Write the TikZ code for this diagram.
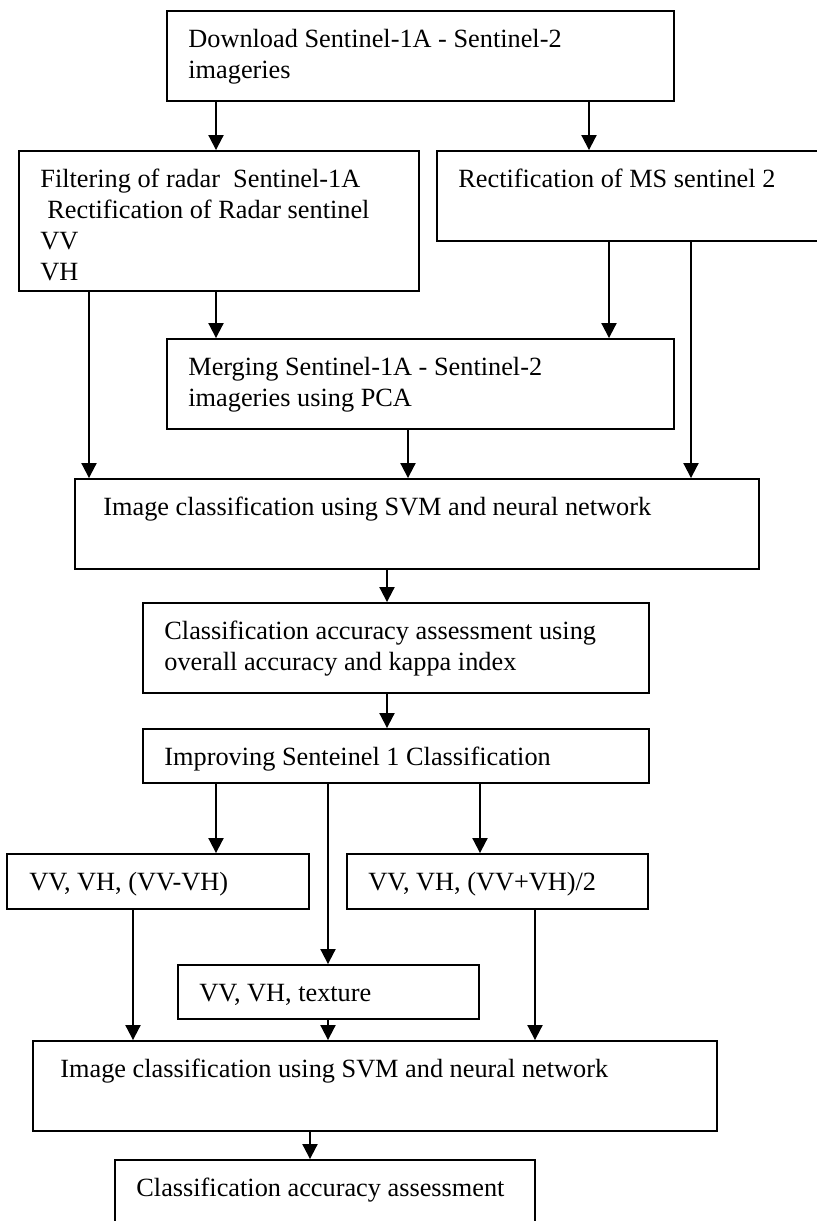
\documentclass[tikz,border=0pt]{standalone}
\usepackage{fontspec}
\setmainfont{Liberation Serif}
\usetikzlibrary{arrows.meta,fit}
\begin{document}
\begin{tikzpicture}[x=0.5pt,y=-0.5pt,
  box/.style={draw=black,line width=0.95pt,inner sep=0pt,fill=none},
  lbl/.style={anchor=base west,inner sep=0pt,font=\fontsize{13.15pt}{15.5pt}\selectfont},
  arr/.style={draw=black,line width=1pt,-{Triangle[length=7.5pt,width=7.5pt]}}]
\useasboundingbox (0,0) rectangle (817,1221);
\clip (0,0) rectangle (817,1221);
\fill[white] (0,0) rectangle (817,1221);
% boxes
\node[box,fit={(167,11)(674,101)}] (b1) {};
\node[box,fit={(19,151)(419,291)}] (b2) {};
\node[box,fit={(437,151)(840,241)}] (b3) {};
\node[box,fit={(167,339)(674,429)}] (b4) {};
\node[box,fit={(75,479)(759,569)}] (b5) {};
\node[box,fit={(143,603)(649,693)}] (b6) {};
\node[box,fit={(143,729)(649,783)}] (b7) {};
\node[box,fit={(7,854)(309,909)}] (b8) {};
\node[box,fit={(347,854)(648,909)}] (b9) {};
\node[box,fit={(178,965)(479,1019)}] (b10) {};
\node[box,fit={(33,1041)(717,1131)}] (b11) {};
\node[box,fit={(115,1160)(535,1250)}] (b12) {};
% texts
\node[lbl] (t1a) at (188,47) {Download Sentinel-1A - Sentinel-2};
\node[lbl] (t1b) at (188,78) {imageries};
\node[lbl] (t2a) at (40,187) {Filtering of radar\ \ Sentinel-1A};
\node[lbl] (t2b) at (47,218) {Rectification of Radar sentinel};
\node[lbl] (t2c) at (40,249) {VV};
\node[lbl] (t2d) at (40,280) {VH};
\node[lbl] (t3) at (458,187) {Rectification of MS sentinel 2};
\node[lbl] (t4a) at (188,375) {Merging Sentinel-1A - Sentinel-2};
\node[lbl] (t4b) at (188,406) {imageries using PCA};
\node[lbl] (t5) at (103,515) {Image classification using SVM and neural network};
\node[lbl] (t6a) at (164,639) {Classification accuracy assessment using};
\node[lbl] (t6b) at (164,670) {overall accuracy and kappa index};
\node[lbl] (t7) at (164,765) {Improving Senteinel 1 Classification};
\node[lbl] (t8) at (29,890) {VV, VH, (VV-VH)};
\node[lbl] (t9) at (368,890) {VV, VH, (VV+VH)/2};
\node[lbl] (t10) at (199,1001) {VV, VH, texture};
\node[lbl] (t11) at (60,1077) {Image classification using SVM and neural network};
\node[lbl] (t12) at (136,1196) {Classification accuracy assessment};
% x positions of connectors
\coordinate (x89) at (89,0);
\coordinate (x133) at (133,0);
\coordinate (x216) at (216,0);
\coordinate (x310) at (310,0);
\coordinate (x328) at (328,0);
\coordinate (x387) at (387,0);
\coordinate (x408) at (408,0);
\coordinate (x480) at (480,0);
\coordinate (x535) at (535,0);
\coordinate (x589) at (589,0);
\coordinate (x609) at (609,0);
\coordinate (x691) at (691,0);
% connectors
\draw[arr] (b1.south -| x216) -- (b2.north -| x216);
\draw[arr] (b1.south -| x589) -- (b3.north -| x589);
\draw[arr] (b2.south -| x89) -- (b5.north -| x89);
\draw[arr] (b2.south -| x216) -- (b4.north -| x216);
\draw[arr] (b3.south -| x609) -- (b4.north -| x609);
\draw[arr] (b3.south -| x691) -- (b5.north -| x691);
\draw[arr] (b4.south -| x408) -- (b5.north -| x408);
\draw[arr] (b5.south -| x387) -- (b6.north -| x387);
\draw[arr] (b6.south -| x387) -- (b7.north -| x387);
\draw[arr] (b7.south -| x216) -- (b8.north -| x216);
\draw[arr] (b7.south -| x328) -- (b10.north -| x328);
\draw[arr] (b7.south -| x480) -- (b9.north -| x480);
\draw[arr] (b8.south -| x133) -- (b11.north -| x133);
\draw[arr] (b10.south -| x328) -- (b11.north -| x328);
\draw[arr] (b9.south -| x535) -- (b11.north -| x535);
\draw[arr] (b11.south -| x310) -- (b12.north -| x310);
\end{tikzpicture}
\end{document}
